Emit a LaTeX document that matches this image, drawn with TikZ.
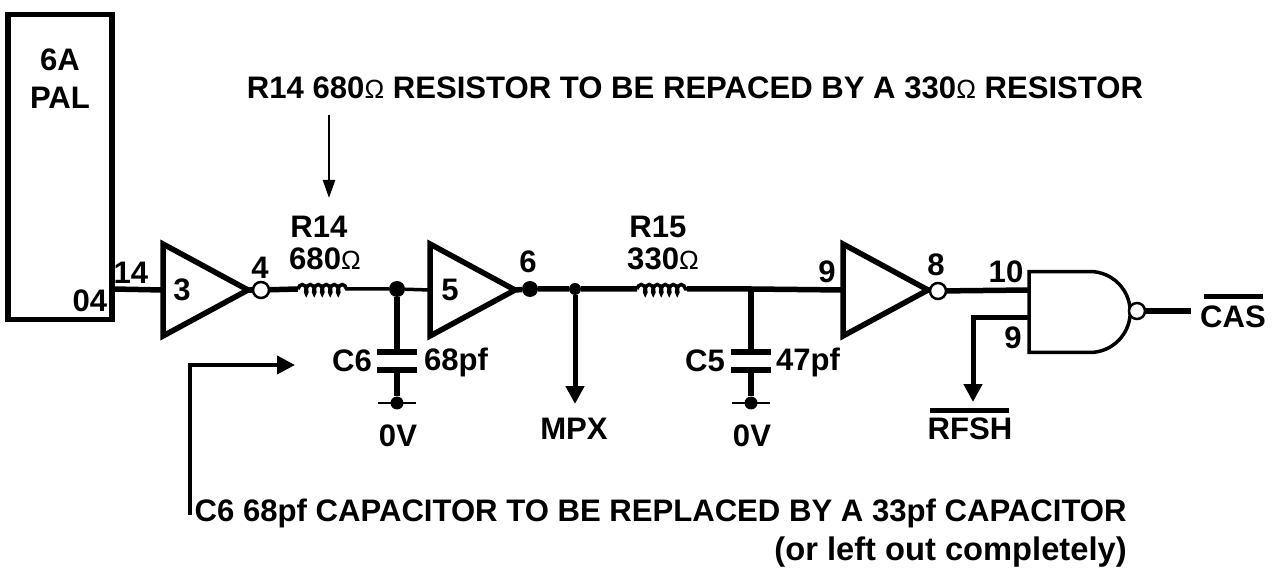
\documentclass[tikz,border=0pt]{standalone}
\usepackage{fontspec}
\setmainfont{Liberation Sans}
\usetikzlibrary{shapes.geometric,shapes.gates.logic.US,decorations.pathmorphing,arrows.meta}
\newcommand{\ohm}{{\fontsize{15}{15}\selectfont\textmd{Ω}}}
\tikzset{
    txt/.style={inner sep=0pt, font=\fontsize{17.7}{20}\selectfont\bfseries},
    note/.style={inner sep=0pt, font=\fontsize{17.7}{20}\selectfont\bfseries},
    buf/.style={isosceles triangle, isosceles triangle stretches, draw=black, line width=1.1mm, minimum width=1.84cm, minimum height=1.7cm, inner sep=0pt, outer sep=0pt, anchor=lower side},
    bubble/.style={circle, draw=black, fill=white, line width=0.5mm, minimum size=0.32cm, inner sep=0pt, outer sep=0pt},
    dot/.style={circle, fill=black, minimum size=0.32cm, inner sep=0pt, outer sep=0pt},
    wire/.style={line width=1.1mm},
    thin wire/.style={line width=0.7mm},
    plate/.style={line width=1.1mm},
    res/.style={line width=0.7mm, decorate, decoration={coil, aspect=0.5, amplitude=0.09cm, segment length=0.16cm}},
    sig/.style={line width=1mm, -{Triangle[width=3.6mm,length=3.6mm]}},
    pointer/.style={line width=0.5mm, -{Triangle[width=2.4mm,length=3.6mm]}},
    bar/.style={line width=1mm}
}
\begin{document}
\begin{tikzpicture}[x=0.02cm, y=-0.02cm]
    \useasboundingbox (0,0) rectangle (1275,570);
    % PAL
    \node [draw=black, line width=1.1mm, minimum width=2.08cm, minimum height=6.1cm, inner sep=0pt, outer sep=0pt] (pal) at (60,167) {};
    \node [txt] (pal-1) at (60,60) {6A};
    \node [txt] (pal-2) at (60,98) {PAL};
    % Buffers
    \foreach \m/\x in {3/163,5/430,9/843}
        \node [buf] (buf-\m) at (\x,290) {};
    \foreach \m/\x in {3/182,5/450}
        \node [txt] (lbl-\m) at (\x,290) {\m};
    % Output bubbles
    \node [bubble] (bub-4) at (261,290) {};
    \node [bubble] (bub-8) at (938,291) {};
    % Junctions
    \node [dot] (j6) at (530,289) {};
    \node [dot, minimum size=0.24cm] (jm) at (575,289) {};
    \node [dot] (jc-6) at (397,289) {};
    \coordinate (jc-5) at (751,289);
    % Gate
    \node [and gate US, draw=black, line width=0.7mm, minimum width=1.96cm, minimum height=1.62cm, inner sep=0pt, outer sep=0pt, anchor=west] (nand) at (1029,312) {};
    \node [bubble] (bub-n) at (1137,311) {};
    \coordinate (cas-end) at (1191,311);
    \coordinate (in-10) at (1029,290);
    \coordinate (in-9) at (1029,318);
    \coordinate (rfsh-end) at (973,402);
    \coordinate (pal-out) at (113,289);
    % Resistors
    \foreach \m/\a/\b in {14/298/347,15/637/687} {
        \coordinate (r\m-a) at (\a,289);
        \coordinate (r\m-b) at (\b,289);
        \draw [res] (r\m-a) -- (r\m-b);
    }
    % Wires
    \draw [wire] (pal-out) -- (buf-3.lower side);
    \draw [wire] (buf-3.apex) -- (bub-4);
    \draw [wire] (bub-4) -- (r14-a);
    \draw [thin wire] (r14-b) -- (jc-6) -- (buf-5.lower side);
    \draw [wire] (buf-5.apex) -- (j6) -- (jm) -- (r15-a);
    \draw [wire] (r15-b) -- (jc-5) -- (buf-9.lower side);
    \draw [wire] (buf-9.apex) -- (bub-8);
    \draw [wire] (bub-8) -- (in-10);
    \draw [wire] (bub-n) -- (cas-end);
    \draw [sig] (in-9) -| (rfsh-end);
    \draw [sig] (jm) -- (575,404) coordinate (mpx-end);
    % Capacitors
    \foreach \m/\x in {6/397,5/751} {
        \coordinate (cu-\m) at (\x,352);
        \coordinate (cl-\m) at (\x,370);
        \node [dot, minimum size=0.26cm] (gnd-\m) at (\x,403) {};
        \draw [wire] (jc-\m) -- (cu-\m);
        \draw [plate] (\x-20,352) -- (\x+20,352);
        \draw [plate] (\x-20,370) -- (\x+20,370);
        \draw [wire] (cl-\m) -- (gnd-\m);
        \draw [line width=0.5mm] (\x-19,403) -- (\x+19,403);
        \node [txt] (zero-\m) at (\x+1,436) {0V};
    }
    % Pin numbers
    \foreach \n/\x/\y/\t in {a/131/273/14,b/90/301/04,c/260/268/4,d/528/262/6,e/827/272/9,f/936/265/8,g/1006/272/10,h/1013/338/9}
        \node [txt] (pin-\n) at (\x,\y) {\t};
    % Parts
    \node [txt] (r14-name) at (319,227) {R14};
    \node [txt] (r14-val) at (325,259) {680\ohm};
    \node [txt] (r15-name) at (658,227) {R15};
    \node [txt] (r15-val) at (663,259) {330\ohm};
    \node [txt] (c6-name) at (352,361) {C6};
    \node [txt] (c6-val) at (456,362) {68pf};
    \node [txt] (c5-name) at (705,361) {C5};
    \node [txt] (c5-val) at (808,362) {47pf};
    % Signals
    \node [txt] (mpx) at (574,429) {MPX};
    \node [txt] (rfsh) at (970,429) {RFSH};
    \node [txt] (cas) at (1233,317) {CAS};
    \draw [bar] (930,411) -- (1009,411);
    \draw [bar] (1204,297) -- (1263,297);
    % Notes
    \node [note] (note-r) at (695,88) {R14 680\ohm{} RESISTOR TO BE REPACED BY A 330\ohm{} RESISTOR};
    \node [note, anchor=east] (note-c) at (1127,513) {C6 68pf CAPACITOR TO BE REPLACED BY A 33pf CAPACITOR};
    \node [note, anchor=east, font=\fontsize{18.6}{20}\selectfont\bfseries] (note-d) at (1127,552) {(or left out completely)};
    \coordinate (arr-r) at (329,115);
    \coordinate (arr-c) at (190,515);
    \draw [pointer] (arr-r) -- (329,198) coordinate (r14-pt);
    \draw [sig, line width=0.8mm] (arr-c) |- (295,365) coordinate (c6-pt);
\end{tikzpicture}
\end{document}
